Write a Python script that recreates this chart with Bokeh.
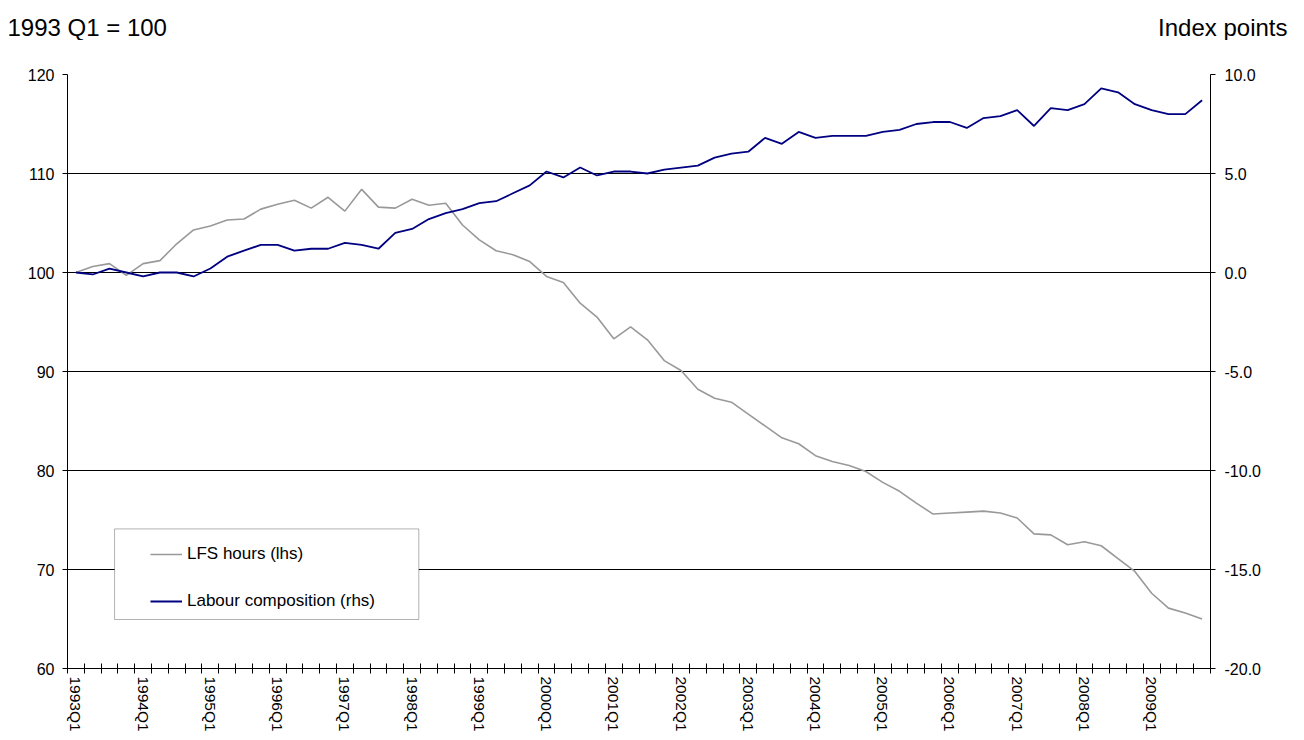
from bokeh.plotting import figure
from bokeh.layouts import column
from bokeh.models import (LinearAxis, Range1d, FixedTicker, Legend, LegendItem,
                          BoxAnnotation, Label, NumeralTickFormatter, ColumnDataSource)
from bokeh.embed import file_html
from bokeh.resources import INLINE

years = list(range(1993, 2010))
quarter_names = ["Q1", "Q2", "Q3", "Q4"]
quarters = [f"{y}{q}" for y in years for q in quarter_names]

lfs_hours = [100.0, 100.6, 100.9, 99.7, 100.9, 101.2, 102.9, 104.3, 104.7, 105.3,
             105.4, 106.4, 106.9, 107.3, 106.5, 107.6, 106.2, 108.4, 106.6, 106.5,
             107.4, 106.8, 107.0, 104.8, 103.3, 102.2, 101.8, 101.1, 99.6, 99.0,
             96.9, 95.5, 93.3, 94.5, 93.2, 91.1, 90.1, 88.2, 87.3, 86.9,
             85.7, 84.5, 83.3, 82.7, 81.5, 80.9, 80.5, 79.9, 78.8, 77.9,
             76.7, 75.6, 75.7, 75.8, 75.9, 75.7, 75.2, 73.6, 73.5, 72.5,
             72.8, 72.4, 71.1, 69.8, 67.6, 66.1, 65.6, 65.0]

labour_comp = [0.0, -0.1, 0.2, 0.0, -0.2, 0.0, 0.0, -0.2, 0.2, 0.8,
               1.1, 1.4, 1.4, 1.1, 1.2, 1.2, 1.5, 1.4, 1.2, 2.0,
               2.2, 2.7, 3.0, 3.2, 3.5, 3.6, 4.0, 4.4, 5.1, 4.8,
               5.3, 4.9, 5.1, 5.1, 5.0, 5.2, 5.3, 5.4, 5.8, 6.0,
               6.1, 6.8, 6.5, 7.1, 6.8, 6.9, 6.9, 6.9, 7.1, 7.2,
               7.5, 7.6, 7.6, 7.3, 7.8, 7.9, 8.2, 7.4, 8.3, 8.2,
               8.5, 9.3, 9.1, 8.5, 8.2, 8.0, 8.0, 8.7]

left_ticks = [60, 70, 80, 90, 100, 110, 120]
right_ticks = [-20, -15, -10, -5, 0, 5, 10]

FONT = "Liberation Sans"
W = 1302
HEAD_H = 40
MAIN_H = 699

# header strip with the two unit notes
head = figure(width=W, height=HEAD_H, output_backend="svg", toolbar_location=None,
              x_axis_type=None, y_axis_type=None, min_border=0,
              x_range=Range1d(0, 1), y_range=Range1d(0, 1))
head.frame_align = False
head.outline_line_color = None
head.grid.visible = False
head.add_layout(Label(x=7, y=HEAD_H - 27, x_units="screen", y_units="screen",
                      text="1993 Q1 = 100", text_font=FONT, text_font_size="24px",
                      text_baseline="alphabetic", text_align="left", text_color="black"))
head.add_layout(Label(x=1287, y=HEAD_H - 27, x_units="screen", y_units="screen",
                      text="Index points", text_font=FONT, text_font_size="24px",
                      text_baseline="alphabetic", text_align="right", text_color="black"))

n = len(quarters)
xpos = [i + 0.5 for i in range(n)]
src = ColumnDataSource(dict(x=xpos, lfs=lfs_hours, lab=labour_comp))

p = figure(width=W, height=MAIN_H, output_backend="svg", toolbar_location=None,
           x_range=Range1d(0, n), y_range=Range1d(60, 120),
           min_border_left=67, min_border_right=W - 1210, min_border_top=74 - HEAD_H,
           min_border_bottom=MAIN_H - (668 - HEAD_H))
p.frame_align = False
p.outline_line_color = None
p.background_fill_color = "white"
p.extra_y_ranges = {"right": Range1d(-20, 10)}

# x axis: category boundaries as minor ticks, Q1 labels as major ticks
label_pos = [xpos[i] for i in range(0, n, 4)]
xa = p.xaxis[0]
xa.ticker = FixedTicker(ticks=label_pos, minor_ticks=list(range(0, n + 1)))
xa.major_label_overrides = {xpos[i]: quarters[i] for i in range(0, n, 4)}
xa.major_label_orientation = "vertical"
xa.major_tick_line_color = None
xa.major_tick_out = 0
xa.major_tick_in = 0
xa.minor_tick_in = 5
xa.minor_tick_out = 5
xa.minor_tick_line_color = "black"
xa.axis_line_color = "black"
xa.major_label_standoff = 3
xa.major_label_text_font = FONT
xa.major_label_text_font_size = "15.5px"
xa.major_label_text_color = "black"

ya = p.yaxis[0]
ya.ticker = FixedTicker(ticks=left_ticks)
ya.minor_tick_line_color = None
ya.major_tick_in = 0
ya.major_tick_out = 5
ya.major_tick_line_color = "black"
ya.axis_line_color = "black"
ya.major_label_standoff = 8
ya.major_label_text_font = FONT
ya.major_label_text_font_size = "16px"
ya.major_label_text_color = "black"

ra = LinearAxis(y_range_name="right", ticker=FixedTicker(ticks=right_ticks),
                formatter=NumeralTickFormatter(format="0.0"))
ra.minor_tick_line_color = None
ra.major_tick_in = 0
ra.major_tick_out = 5
ra.major_tick_line_color = "black"
ra.axis_line_color = "black"
ra.major_label_standoff = 9
ra.major_label_text_font = FONT
ra.major_label_text_font_size = "16px"
ra.major_label_text_color = "black"
p.add_layout(ra, "right")

p.xgrid.visible = False
p.ygrid.ticker = FixedTicker(ticks=left_ticks)
p.ygrid.grid_line_color = "black"
p.ygrid.grid_line_width = 1
p.ygrid.grid_line_alpha = 1

r1 = p.line("x", "lfs", source=src, line_color="#999999", line_width=1.6)
r2 = p.line("x", "lab", source=src, y_range_name="right", line_color="#000080", line_width=1.8)

box = BoxAnnotation(left=2.8, right=20.9, top=74.1, bottom=64.95,
                    fill_color="white", fill_alpha=1, line_color="black", line_width=1)
p.add_layout(box)

legend = Legend(items=[LegendItem(label="LFS hours (lhs)", renderers=[r1]),
                       LegendItem(label="Labour composition (rhs)", renderers=[r2])],
                location=(83, 57), padding=0, margin=0, spacing=27,
                glyph_width=32, glyph_height=20, label_height=20, label_standoff=5,
                border_line_color=None, background_fill_alpha=0,
                label_text_font=FONT, label_text_font_size="17px", label_text_color="black")
p.add_layout(legend)

layout = column(head, p, spacing=0)
open("out.html", "w").write(file_html(layout, INLINE))
